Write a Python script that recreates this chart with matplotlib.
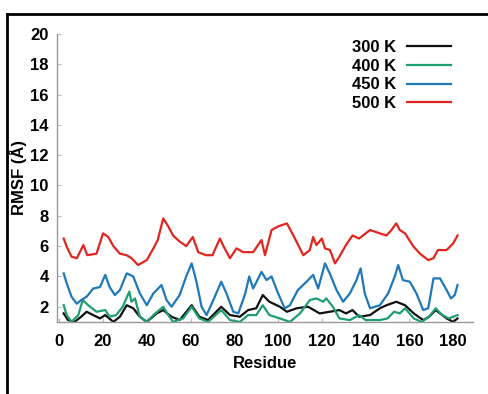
import matplotlib
matplotlib.use("Agg")
import matplotlib.pyplot as plt
from matplotlib.lines import Line2D

# ---- data ----
res_500 = [2, 3.4, 5.6, 8, 11, 12.8, 17, 20, 22.4, 24.7, 27.7, 30.8, 33, 36, 40, 43, 45, 47.5, 49.8,
           52, 55, 58, 61, 63.5, 67, 70, 73.4, 75, 78, 81, 84, 88.6, 92.4, 94, 97, 100, 104, 107,
           111.5, 114.5, 116, 117.5, 120, 121.4, 123.7, 126, 128, 131, 134, 137, 142, 146.5, 149.5,
           151.8, 154, 155.6, 158, 161.7, 164.8, 168.6, 171, 173, 177, 180, 182]
rmsf_500 = [6.5, 5.96, 5.3, 5.2, 6.07, 5.4, 5.5, 6.84, 6.6, 6.0, 5.5, 5.4, 5.2, 4.75, 5.08, 5.85, 6.4,
            7.83, 7.3, 6.7, 6.3, 6.0, 6.6, 5.6, 5.4, 5.4, 6.5, 6.0, 5.2, 5.85, 5.6, 5.6, 6.4, 5.4,
            7.06, 7.3, 7.5, 6.7, 5.4, 5.74, 6.6, 6.07, 6.5, 5.85, 5.74, 4.86, 5.3, 6.07, 6.7, 6.5,
            7.06, 6.84, 6.7, 7.06, 7.5, 7.06, 6.84, 6.0, 5.5, 5.08, 5.2, 5.74, 5.74, 6.18, 6.7]

res_450 = [2, 3.4, 5.6, 8, 10, 12.5, 15.5, 18.6, 21, 23, 25.4, 27.7, 30.8, 33.8, 36.8, 40, 43, 46.7,
           49, 51.3, 55, 58, 60.5, 62.7, 65, 67.3, 70.4, 74, 76.4, 79.5, 81.8, 85, 86.8, 88.6, 92.4,
           94.7, 97, 100, 103, 105.4, 109, 113, 116, 118.3, 121.4, 123.6, 126.7, 129.7, 132.8,
           135.8, 137.7, 139.6, 142, 146.5, 150.3, 153.3, 154.9, 157, 160.2, 163.2, 166.3, 168.6,
           171, 174, 177, 179, 180.7, 182]
rmsf_450 = [4.2, 3.54, 2.66, 2.2, 2.44, 2.66, 3.2, 3.3, 4.1, 3.3, 2.77, 3.1, 4.2, 4.0, 2.88, 2.1, 2.88,
            3.43, 2.44, 2.0, 2.77, 4.0, 4.86, 3.65, 2.0, 1.45, 2.44, 3.65, 2.88, 1.67, 1.56, 2.88,
            4.0, 3.2, 4.3, 3.76, 4.0, 2.88, 1.9, 2.1, 3.1, 3.65, 4.1, 3.2, 4.86, 4.2, 3.1, 2.33,
            2.88, 3.76, 4.53, 2.88, 1.9, 2.1, 2.88, 4.0, 4.75, 3.76, 3.65, 2.88, 1.78, 1.9, 3.87,
            3.87, 3.1, 2.55, 2.77, 3.43]

res_400 = [2, 3.4, 5.6, 8.7, 10.7, 13.2, 17, 21, 23, 26, 29, 32, 33, 34.6, 36.8, 40, 43, 47.5, 49.8,
           52, 56.6, 60.5, 64, 68, 74, 78, 82.5, 86.3, 90, 93, 96, 100.8, 105.4, 110, 114.5, 117.5,
           120.6, 122, 125, 128, 132.8, 137, 140, 146.5, 150, 153, 155.6, 158, 162, 165.5, 169,
           172, 175, 178, 182]
rmsf_400 = [2.1, 1.45, 1.0, 1.45, 2.44, 2.1, 1.67, 1.78, 1.34, 1.45, 2.0, 3.0, 2.33, 2.55, 1.34, 1.0,
            1.45, 2.0, 1.45, 1.0, 1.23, 2.0, 1.23, 1.0, 1.78, 1.12, 1.0, 1.45, 1.45, 2.1, 1.45, 1.23,
            1.0, 1.56, 2.44, 2.55, 2.33, 2.55, 2.0, 1.23, 1.12, 1.45, 1.12, 1.12, 1.23, 1.67, 1.56,
            1.9, 1.23, 1.0, 1.34, 1.9, 1.45, 1.23, 1.45]

res_300 = [2, 4, 7, 10, 12.5, 15.5, 18.6, 21, 24.7, 27.7, 30.8, 33.8, 36.8, 40, 44.5, 47.5, 51.3, 55,
           60.5, 64, 68, 74, 78, 82.5, 86.3, 90, 93, 96, 100.8, 104, 108.5, 113.7, 119, 123.6, 128,
           131, 134, 137, 142, 146.5, 149.5, 154, 158, 162, 166.3, 169, 172, 177, 180, 182]
rmsf_300 = [1.56, 1.12, 1.0, 1.34, 1.67, 1.45, 1.23, 1.45, 1.0, 1.34, 2.1, 1.9, 1.34, 1.0, 1.56, 1.78,
            1.34, 1.12, 2.1, 1.34, 1.12, 2.0, 1.45, 1.34, 1.78, 1.9, 2.77, 2.33, 2.0, 1.67, 1.9, 2.0,
            1.56, 1.67, 1.78, 1.56, 1.78, 1.34, 1.45, 1.9, 2.1, 2.33, 2.1, 1.56, 1.12, 1.34, 1.78,
            1.23, 1.0, 1.23]

labels = ["300 K", "400 K", "450 K", "500 K"]
colors = ["#111111", "#1f9e6e", "#1f78b8", "#e0261e"]
xticks = [0, 20, 40, 60, 80, 100, 120, 140, 160, 180]
yticks = [2, 4, 6, 8, 10, 12, 14, 16, 18, 20]

plt.rcParams['font.family'] = ['Liberation Sans', 'DejaVu Sans']
plt.rcParams['font.weight'] = 'bold'

fig = plt.figure(figsize=(4.88, 3.94), dpi=100)
ax = fig.add_axes([0.117, 0.183, 0.852, 0.731])

series = [(res_300, rmsf_300), (res_400, rmsf_400), (res_450, rmsf_450), (res_500, rmsf_500)]
for (xs, ys), lab, c in zip(series, labels, colors):
    ax.plot(xs, ys, color=c, lw=1.6, label=lab)

ax.set_xlim(-1, 189)
ax.set_ylim(1, 20)
ax.set_xticks(xticks)
ax.set_yticks(yticks)
for s in ["top", "right"]:
    ax.spines[s].set_visible(False)
for s in ["left", "bottom"]:
    ax.spines[s].set_color("#999999")
    ax.spines[s].set_linewidth(1.0)
ax.spines["left"].set_bounds(1, 20)
ax.tick_params(direction="in", length=3, color="#bbbbbb", labelsize=12)
ax.tick_params(axis="y", pad=6)
ax.tick_params(axis="x", pad=9)
for t in ax.get_xticklabels() + ax.get_yticklabels():
    t.set_fontweight("bold")

ax.set_xlabel("Residue", fontsize=12, fontweight="bold", labelpad=5)
ax.set_ylabel("RMSF (Å)", fontsize=12, fontweight="bold", labelpad=2)

leg = ax.legend(loc="upper right", bbox_to_anchor=(0.955, 0.99), borderaxespad=0, borderpad=0.2,
                frameon=False, markerfirst=False,
                handlelength=2.6, handletextpad=0.7, labelspacing=0.22,
                prop={'weight': 'bold', 'size': 12})

# outer frame lines (top and left)
fig.add_artist(Line2D([0.014, 1.0], [0.965, 0.965], transform=fig.transFigure, color="black", lw=2))
fig.add_artist(Line2D([0.014, 0.014], [0.0, 0.965], transform=fig.transFigure, color="black", lw=2))

fig.savefig("out.png", dpi=100)
